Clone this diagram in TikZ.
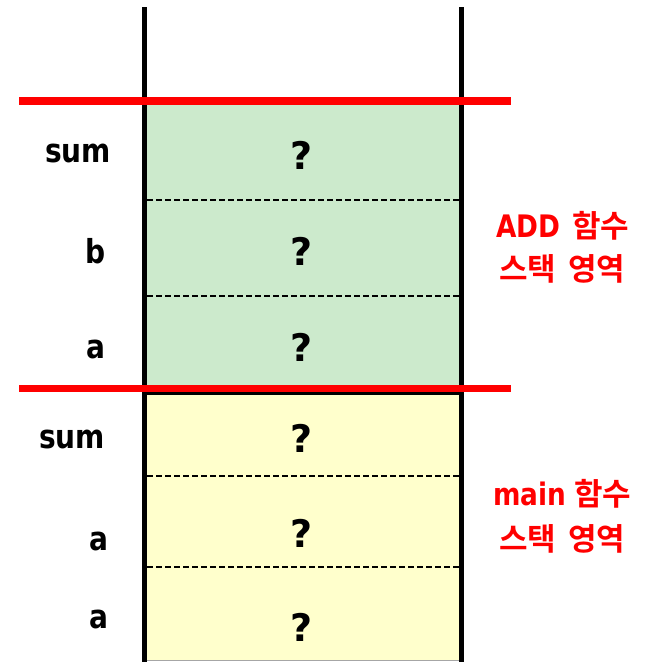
\documentclass[tikz,border=0pt]{standalone}
\usepackage{fontspec}
\setmainfont{DejaVu Sans}
\newfontfamily\krfont{Noto Sans CJK KR}[BoldFont={Noto Sans CJK KR Bold}]
\definecolor{framegreen}{RGB}{204,234,204}
\definecolor{frameyellow}{RGB}{255,255,204}
\definecolor{markred}{RGB}{255,0,0}
\newcommand{\narrowtext}[1]{\scalebox{0.85}[1]{\bfseries #1}}
\newcommand{\hangul}[1]{{\krfont\bfseries\fontsize{31}{33}\selectfont #1}}
\begin{document}
\begin{tikzpicture}[x=1pt,y=-1pt,
  varlabel/.style={font=\fontsize{33}{36}\selectfont\bfseries, anchor=base, inner sep=0pt},
  qmark/.style={font=\fontsize{38}{42}\selectfont\bfseries, anchor=base, inner sep=0pt},
  regionlabel/.style={font=\fontsize{31}{34}\selectfont\bfseries, text=markred, anchor=base west, inner sep=0pt},
  slotsep/.style={line width=2pt, dash pattern=on 6pt off 3pt},
  wall/.style={line width=5.5pt},
  redbar/.style={line width=7.5pt, markred}]
\useasboundingbox (0,0) rectangle (646,662);
% fills
\fill[framegreen] (147,104) rectangle (459,388);
\fill[frameyellow] (147,391) rectangle (459,660);
\draw[line width=1pt, gray!70] (147,660.5) -- (459,660.5);
% separators
\draw[slotsep] (147,200) -- (459,200);
\draw[slotsep] (147,296) -- (459,296);
\draw[slotsep] (147,476) -- (459,476);
\draw[slotsep] (147,567) -- (459,567);
\draw[wall] (144.5,392) -- (461.5,392);
% walls
\draw[wall] (144.5,7) -- (144.5,662);
\draw[wall] (461.5,7) -- (461.5,662);
% red bars
\draw[redbar] (19,101) -- (511,101);
\draw[redbar] (19,388.5) -- (511,388.5);
% variable labels
\node[varlabel] (v1) at (78,162) {\narrowtext{sum}};
\node[varlabel] (v2) at (96,263) {\narrowtext{b}};
\node[varlabel] (v3) at (96,358) {\narrowtext{a}};
\node[varlabel] (v4) at (72,448) {\narrowtext{sum}};
\node[varlabel] (v5) at (99,550) {\narrowtext{a}};
\node[varlabel] (v6) at (99,628) {\narrowtext{a}};
% values
\node[qmark] (q1) at (302,169) {?};
\node[qmark] (q2) at (302,265) {?};
\node[qmark] (q3) at (302,361) {?};
\node[qmark] (q4) at (302,452) {?};
\node[qmark] (q5) at (302,547) {?};
\node[qmark] (q6) at (302,641) {?};
% region labels
\node[regionlabel] (r1) at (496,237) {\narrowtext{ADD}\hspace{12pt}\hangul{함수}};
\node[regionlabel] (r2) at (499,280) {\hangul{스택\hspace{12pt}영역}};
\node[regionlabel] (r3) at (493,505) {\narrowtext{main}\hspace{8pt}\hangul{함수}};
\node[regionlabel] (r4) at (499,550) {\hangul{스택\hspace{12pt}영역}};
\end{tikzpicture}
\end{document}
